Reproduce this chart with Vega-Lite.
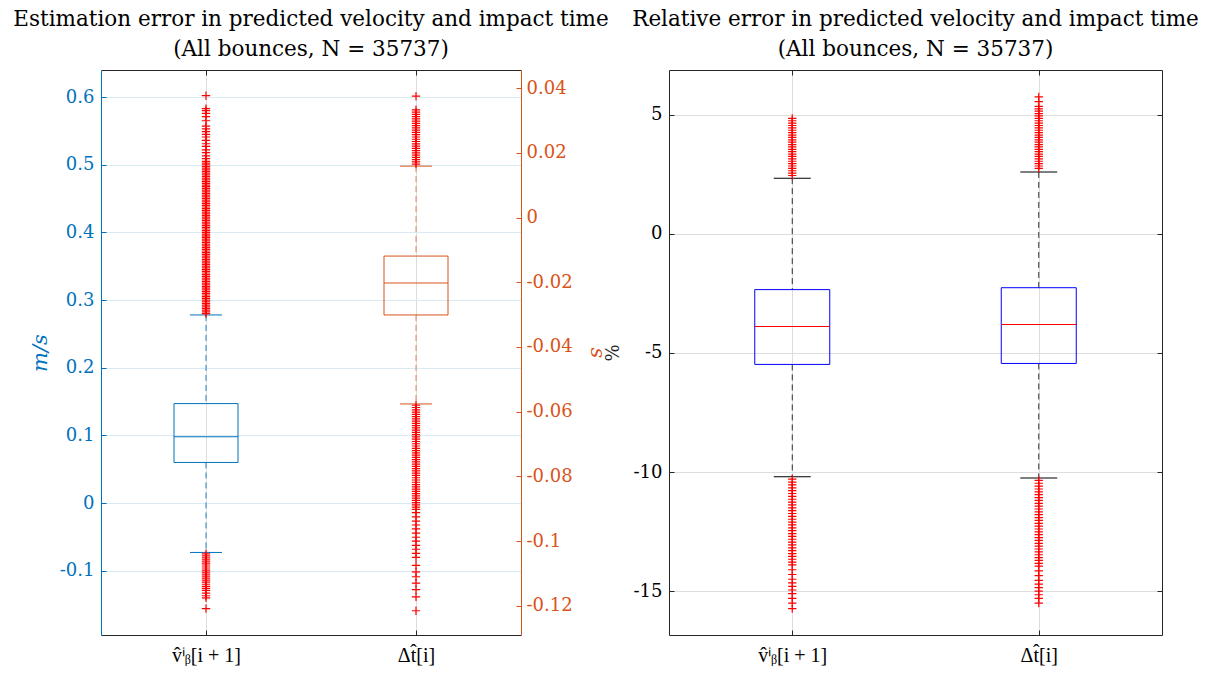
{
  "$schema": "https://vega.github.io/schema/vega-lite/v6.json",
  "padding": {"left": 13, "top": 9, "right": 5, "bottom": 5},
  "background": "white",
  "config": {
    "font": "DejaVu Serif",
    "view": {"stroke": null},
    "axis": {
      "labelFont": "DejaVu Serif",
      "labelFontSize": 18,
      "titleFont": "DejaVu Serif",
      "titleFontWeight": "normal",
      "tickSize": -5,
      "domainWidth": 1,
      "gridWidth": 1,
      "labelPadding": 12
    },
    "title": {"font": "DejaVu Serif", "fontSize": 21.5, "fontWeight": "normal", "color": "#000000", "lineHeight": 30, "offset": 9, "anchor": "middle"}
  },
  "datasets": {
    "vbox": [{"cat": "v", "q1": 0.06, "q3": 0.147, "med": 0.098, "lo": -0.073, "hi": 0.278}],
    "tbox": [{"cat": "t", "q1": -0.0301, "q3": -0.0119, "med": -0.0202, "lo": -0.0576, "hi": 0.0159}],
    "vout": [
      {"cat":"v","val":0.28},{"cat":"v","val":0.2825},{"cat":"v","val":0.285},{"cat":"v","val":0.2875},{"cat":"v","val":0.29},{"cat":"v","val":0.2925},{"cat":"v","val":0.295},{"cat":"v","val":0.2975},
      {"cat":"v","val":0.3},{"cat":"v","val":0.3025},{"cat":"v","val":0.305},{"cat":"v","val":0.3075},{"cat":"v","val":0.31},{"cat":"v","val":0.3125},{"cat":"v","val":0.315},{"cat":"v","val":0.3175},
      {"cat":"v","val":0.32},{"cat":"v","val":0.3225},{"cat":"v","val":0.325},{"cat":"v","val":0.3275},{"cat":"v","val":0.33},{"cat":"v","val":0.3325},{"cat":"v","val":0.335},{"cat":"v","val":0.3375},
      {"cat":"v","val":0.34},{"cat":"v","val":0.3425},{"cat":"v","val":0.345},{"cat":"v","val":0.3475},{"cat":"v","val":0.35},{"cat":"v","val":0.3525},{"cat":"v","val":0.355},{"cat":"v","val":0.3575},
      {"cat":"v","val":0.36},{"cat":"v","val":0.3625},{"cat":"v","val":0.365},{"cat":"v","val":0.3675},{"cat":"v","val":0.37},{"cat":"v","val":0.3725},{"cat":"v","val":0.375},{"cat":"v","val":0.3775},
      {"cat":"v","val":0.38},{"cat":"v","val":0.3825},{"cat":"v","val":0.385},{"cat":"v","val":0.3875},{"cat":"v","val":0.39},{"cat":"v","val":0.3925},{"cat":"v","val":0.395},{"cat":"v","val":0.3975},
      {"cat":"v","val":0.4},{"cat":"v","val":0.4025},{"cat":"v","val":0.405},{"cat":"v","val":0.4075},{"cat":"v","val":0.41},{"cat":"v","val":0.4125},{"cat":"v","val":0.415},{"cat":"v","val":0.4175},
      {"cat":"v","val":0.42},{"cat":"v","val":0.4225},{"cat":"v","val":0.425},{"cat":"v","val":0.4275},{"cat":"v","val":0.43},{"cat":"v","val":0.4325},{"cat":"v","val":0.435},{"cat":"v","val":0.4375},
      {"cat":"v","val":0.44},{"cat":"v","val":0.4425},{"cat":"v","val":0.445},{"cat":"v","val":0.4475},{"cat":"v","val":0.45},{"cat":"v","val":0.4525},{"cat":"v","val":0.455},{"cat":"v","val":0.4575},
      {"cat":"v","val":0.46},{"cat":"v","val":0.4625},{"cat":"v","val":0.465},{"cat":"v","val":0.4675},{"cat":"v","val":0.47},{"cat":"v","val":0.4725},{"cat":"v","val":0.475},{"cat":"v","val":0.4775},
      {"cat":"v","val":0.48},{"cat":"v","val":0.4825},{"cat":"v","val":0.485},{"cat":"v","val":0.4875},{"cat":"v","val":0.49},{"cat":"v","val":0.4925},{"cat":"v","val":0.495},{"cat":"v","val":0.4975},
      {"cat":"v","val":0.5},{"cat":"v","val":0.5025},{"cat":"v","val":0.505},
      {"cat":"v","val":0.509},{"cat":"v","val":0.513},{"cat":"v","val":0.518},{"cat":"v","val":0.522},{"cat":"v","val":0.527},{"cat":"v","val":0.531},{"cat":"v","val":0.536},{"cat":"v","val":0.541},
      {"cat":"v","val":0.545},{"cat":"v","val":0.549},{"cat":"v","val":0.553},{"cat":"v","val":0.557},{"cat":"v","val":0.565},{"cat":"v","val":0.571},{"cat":"v","val":0.576},{"cat":"v","val":0.58},
      {"cat":"v","val":0.583},{"cat":"v","val":0.602},
      {"cat":"v","val":-0.075},{"cat":"v","val":-0.078},{"cat":"v","val":-0.081},{"cat":"v","val":-0.084},{"cat":"v","val":-0.087},{"cat":"v","val":-0.09},{"cat":"v","val":-0.093},{"cat":"v","val":-0.096},
      {"cat":"v","val":-0.099},{"cat":"v","val":-0.102},{"cat":"v","val":-0.105},{"cat":"v","val":-0.108},{"cat":"v","val":-0.111},{"cat":"v","val":-0.114},{"cat":"v","val":-0.117},{"cat":"v","val":-0.12},
      {"cat":"v","val":-0.123},{"cat":"v","val":-0.126},{"cat":"v","val":-0.129},{"cat":"v","val":-0.133},{"cat":"v","val":-0.137},{"cat":"v","val":-0.14},{"cat":"v","val":-0.156}
    ],
    "tout": [
      {"cat":"t","val":0.0165},{"cat":"t","val":0.0172},{"cat":"t","val":0.0179},{"cat":"t","val":0.0186},{"cat":"t","val":0.0193},{"cat":"t","val":0.02},{"cat":"t","val":0.0207},{"cat":"t","val":0.0214},
      {"cat":"t","val":0.0221},{"cat":"t","val":0.0228},{"cat":"t","val":0.0235},{"cat":"t","val":0.0242},{"cat":"t","val":0.0249},{"cat":"t","val":0.0256},{"cat":"t","val":0.0263},{"cat":"t","val":0.027},
      {"cat":"t","val":0.0277},{"cat":"t","val":0.0284},{"cat":"t","val":0.0291},{"cat":"t","val":0.0298},{"cat":"t","val":0.0305},{"cat":"t","val":0.0312},{"cat":"t","val":0.0319},{"cat":"t","val":0.0326},
      {"cat":"t","val":0.0333},{"cat":"t","val":0.0375},
      {"cat":"t","val":-0.058},{"cat":"t","val":-0.0587},{"cat":"t","val":-0.0594},{"cat":"t","val":-0.0601},{"cat":"t","val":-0.0608},{"cat":"t","val":-0.0615},{"cat":"t","val":-0.0622},{"cat":"t","val":-0.0629},
      {"cat":"t","val":-0.0636},{"cat":"t","val":-0.0643},{"cat":"t","val":-0.065},{"cat":"t","val":-0.0657},{"cat":"t","val":-0.0664},{"cat":"t","val":-0.0671},{"cat":"t","val":-0.0678},{"cat":"t","val":-0.0685},
      {"cat":"t","val":-0.0692},{"cat":"t","val":-0.0699},{"cat":"t","val":-0.0706},{"cat":"t","val":-0.0713},{"cat":"t","val":-0.072},{"cat":"t","val":-0.0727},{"cat":"t","val":-0.0734},{"cat":"t","val":-0.0741},
      {"cat":"t","val":-0.0748},{"cat":"t","val":-0.0755},{"cat":"t","val":-0.0762},{"cat":"t","val":-0.0769},{"cat":"t","val":-0.0776},{"cat":"t","val":-0.0783},{"cat":"t","val":-0.079},{"cat":"t","val":-0.0797},
      {"cat":"t","val":-0.0804},{"cat":"t","val":-0.0811},{"cat":"t","val":-0.0818},{"cat":"t","val":-0.0825},{"cat":"t","val":-0.0832},{"cat":"t","val":-0.0839},{"cat":"t","val":-0.0846},{"cat":"t","val":-0.0853},
      {"cat":"t","val":-0.086},{"cat":"t","val":-0.0867},{"cat":"t","val":-0.0874},{"cat":"t","val":-0.0881},{"cat":"t","val":-0.0888},{"cat":"t","val":-0.0895},{"cat":"t","val":-0.0902},
      {"cat":"t","val":-0.0912},{"cat":"t","val":-0.0925},{"cat":"t","val":-0.0938},{"cat":"t","val":-0.095},{"cat":"t","val":-0.0962},{"cat":"t","val":-0.0975},{"cat":"t","val":-0.0988},{"cat":"t","val":-0.1},
      {"cat":"t","val":-0.1013},{"cat":"t","val":-0.1025},{"cat":"t","val":-0.1038},{"cat":"t","val":-0.105},
      {"cat":"t","val":-0.1075},{"cat":"t","val":-0.1095},{"cat":"t","val":-0.111},{"cat":"t","val":-0.113},{"cat":"t","val":-0.115},{"cat":"t","val":-0.1172},{"cat":"t","val":-0.1215}
    ],
    "pbox": [
      {"cat": "v", "q1": -5.48, "q3": -2.34, "med": -3.89, "lo": -10.2, "hi": 2.34},
      {"cat": "t", "q1": -5.44, "q3": -2.26, "med": -3.8, "lo": -10.25, "hi": 2.6}
    ],
    "pout": [
      {"cat":"v","val":2.45},{"cat":"v","val":2.55},{"cat":"v","val":2.65},{"cat":"v","val":2.75},{"cat":"v","val":2.85},{"cat":"v","val":2.95},{"cat":"v","val":3.05},{"cat":"v","val":3.15},
      {"cat":"v","val":3.25},{"cat":"v","val":3.35},{"cat":"v","val":3.45},{"cat":"v","val":3.55},{"cat":"v","val":3.65},{"cat":"v","val":3.75},{"cat":"v","val":3.85},{"cat":"v","val":3.95},
      {"cat":"v","val":4.05},{"cat":"v","val":4.15},{"cat":"v","val":4.25},{"cat":"v","val":4.35},{"cat":"v","val":4.45},{"cat":"v","val":4.55},{"cat":"v","val":4.65},{"cat":"v","val":4.75},
      {"cat":"v","val":4.85},
      {"cat":"v","val":-10.3},{"cat":"v","val":-10.42},{"cat":"v","val":-10.54},{"cat":"v","val":-10.66},{"cat":"v","val":-10.78},{"cat":"v","val":-10.9},{"cat":"v","val":-11.02},{"cat":"v","val":-11.14},
      {"cat":"v","val":-11.26},{"cat":"v","val":-11.38},{"cat":"v","val":-11.5},{"cat":"v","val":-11.62},{"cat":"v","val":-11.74},{"cat":"v","val":-11.86},{"cat":"v","val":-11.98},{"cat":"v","val":-12.1},
      {"cat":"v","val":-12.22},{"cat":"v","val":-12.34},{"cat":"v","val":-12.46},{"cat":"v","val":-12.58},{"cat":"v","val":-12.7},{"cat":"v","val":-12.82},{"cat":"v","val":-12.94},{"cat":"v","val":-13.06},
      {"cat":"v","val":-13.18},{"cat":"v","val":-13.3},{"cat":"v","val":-13.42},{"cat":"v","val":-13.54},{"cat":"v","val":-13.66},{"cat":"v","val":-13.78},{"cat":"v","val":-13.9},
      {"cat":"v","val":-14.1},{"cat":"v","val":-14.3},{"cat":"v","val":-14.5},{"cat":"v","val":-14.65},{"cat":"v","val":-14.8},{"cat":"v","val":-14.95},{"cat":"v","val":-15.1},{"cat":"v","val":-15.3},
      {"cat":"v","val":-15.5},{"cat":"v","val":-15.73},
      {"cat":"t","val":2.75},{"cat":"t","val":2.85},{"cat":"t","val":2.95},{"cat":"t","val":3.05},{"cat":"t","val":3.15},{"cat":"t","val":3.25},{"cat":"t","val":3.35},{"cat":"t","val":3.45},
      {"cat":"t","val":3.55},{"cat":"t","val":3.65},{"cat":"t","val":3.75},{"cat":"t","val":3.85},{"cat":"t","val":3.95},{"cat":"t","val":4.05},{"cat":"t","val":4.15},{"cat":"t","val":4.25},
      {"cat":"t","val":4.35},{"cat":"t","val":4.45},{"cat":"t","val":4.55},{"cat":"t","val":4.65},{"cat":"t","val":4.75},{"cat":"t","val":4.85},{"cat":"t","val":4.95},{"cat":"t","val":5.05},
      {"cat":"t","val":5.15},{"cat":"t","val":5.25},{"cat":"t","val":5.35},{"cat":"t","val":5.55},{"cat":"t","val":5.75},
      {"cat":"t","val":-10.35},{"cat":"t","val":-10.47},{"cat":"t","val":-10.59},{"cat":"t","val":-10.71},{"cat":"t","val":-10.83},{"cat":"t","val":-10.95},{"cat":"t","val":-11.07},{"cat":"t","val":-11.19},
      {"cat":"t","val":-11.31},{"cat":"t","val":-11.43},{"cat":"t","val":-11.55},{"cat":"t","val":-11.67},{"cat":"t","val":-11.79},{"cat":"t","val":-11.91},{"cat":"t","val":-12.03},{"cat":"t","val":-12.15},
      {"cat":"t","val":-12.27},{"cat":"t","val":-12.39},{"cat":"t","val":-12.51},{"cat":"t","val":-12.63},{"cat":"t","val":-12.75},{"cat":"t","val":-12.87},{"cat":"t","val":-12.99},{"cat":"t","val":-13.11},
      {"cat":"t","val":-13.23},{"cat":"t","val":-13.35},{"cat":"t","val":-13.47},{"cat":"t","val":-13.59},{"cat":"t","val":-13.71},{"cat":"t","val":-13.83},{"cat":"t","val":-13.95},
      {"cat":"t","val":-14.15},{"cat":"t","val":-14.35},{"cat":"t","val":-14.55},{"cat":"t","val":-14.7},{"cat":"t","val":-14.85},{"cat":"t","val":-15.0},{"cat":"t","val":-15.15},{"cat":"t","val":-15.3},
      {"cat":"t","val":-15.5}
    ]
  },
  "bounds": "flush",
  "spacing": 148,
  "hconcat": [
    {
      "width": 420,
      "height": 565,
      "title": {"text": ["Estimation error in predicted velocity and impact time", "(All bounces, N = 35737)"]},
      "layer": [
        {
          "encoding": {
            "x": {"field": "cat", "type": "nominal", "title": null,
              "scale": {"type": "point", "domain": ["v", "t"], "padding": 0.5},
              "axis": {"orient": "bottom", "labelAngle": 0, "labelExpr": "datum.value == 'v' ? 'v̂ⁱᵦ[i + 1]' : 'Δt̂[i]'", "labelFont": "Liberation Serif", "labelFontSize": 20, "labelPadding": 15, "labelColor": "#000000", "domainColor": "#262626", "tickColor": "#262626", "grid": true, "gridColor": "#DEDEDE"}},
            "y": {"type": "quantitative", "title": "m/s",
              "scale": {"domain": [-0.195, 0.64], "nice": false, "zero": false},
              "axis": {"orient": "left", "values": [-0.1, 0, 0.1, 0.2, 0.3, 0.4, 0.5, 0.6], "labelExpr": "replace(format(datum.value, '~g'), '−', '-')",
                "labelColor": "#0072BD", "domainColor": "#0072BD", "tickColor": "#0072BD", "grid": true, "gridColor": "#D9EAF5",
                "titleColor": "#0072BD", "titleFontStyle": "italic", "titleFontSize": 21, "titlePadding": 9}}
          },
          "layer": [
            {
              "data": {"name": "vbox"},
              "mark": {"type": "rule", "color": "#0072BD", "strokeDash": [6, 4], "opacity": 0.85},
              "encoding": {"y": {"field": "hi"}, "y2": {"field": "q3"}}
            },
            {
              "data": {"name": "vbox"},
              "mark": {"type": "rule", "color": "#0072BD", "strokeDash": [6, 4], "opacity": 0.85},
              "encoding": {"y": {"field": "q1"}, "y2": {"field": "lo"}}
            },
            {
              "data": {"name": "vbox"},
              "mark": {"type": "bar", "width": 64, "fill": "transparent", "stroke": "#0072BD", "strokeWidth": 1},
              "encoding": {"y": {"field": "q1"}, "y2": {"field": "q3"}}
            },
            {
              "data": {"name": "vbox"},
              "mark": {"type": "tick", "orient": "horizontal", "size": 64, "thickness": 1, "color": "#0072BD", "opacity": 1},
              "encoding": {"y": {"field": "med"}}
            },
            {
              "data": {"name": "vbox"},
              "mark": {"type": "tick", "orient": "horizontal", "size": 32, "thickness": 1, "color": "#0072BD", "opacity": 1},
              "encoding": {"y": {"field": "hi"}}
            },
            {
              "data": {"name": "vbox"},
              "mark": {"type": "tick", "orient": "horizontal", "size": 32, "thickness": 1, "color": "#0072BD", "opacity": 1},
              "encoding": {"y": {"field": "lo"}}
            },
            {
              "data": {"name": "vout"},
              "mark": {"type": "point", "shape": "M-1,0H1M0,-1V1", "size": 70, "filled": false, "stroke": "#FF0000", "strokeWidth": 1.2, "opacity": 1},
              "encoding": {"y": {"field": "val"}}
            }
          ]
        },
        {
          "encoding": {
            "x": {"field": "cat", "type": "nominal", "title": null,
              "scale": {"type": "point", "domain": ["v", "t"], "padding": 0.5},
              "axis": {"orient": "top", "labels": false, "domainColor": "#262626", "tickColor": "#262626", "grid": false}},
            "y": {"type": "quantitative", "title": "s",
              "scale": {"domain": [-0.129, 0.0456], "nice": false, "zero": false},
              "axis": {"orient": "right", "values": [-0.12, -0.1, -0.08, -0.06, -0.04, -0.02, 0, 0.02, 0.04], "labelExpr": "replace(format(datum.value, '~g'), '−', '-')",
                "labelColor": "#D95319", "domainColor": "#D95319", "tickColor": "#D95319", "grid": false, "labelPadding": 10,
                "titleColor": "#D95319", "titleFontStyle": "italic", "titleFontSize": 21, "titlePadding": 14}}
          },
          "layer": [
            {
              "data": {"name": "tbox"},
              "mark": {"type": "rule", "color": "#D95319", "strokeDash": [6, 4], "opacity": 0.7},
              "encoding": {"y": {"field": "hi"}, "y2": {"field": "q3"}}
            },
            {
              "data": {"name": "tbox"},
              "mark": {"type": "rule", "color": "#D95319", "strokeDash": [6, 4], "opacity": 0.7},
              "encoding": {"y": {"field": "q1"}, "y2": {"field": "lo"}}
            },
            {
              "data": {"name": "tbox"},
              "mark": {"type": "bar", "width": 64, "fill": "transparent", "stroke": "#D95319", "strokeWidth": 1},
              "encoding": {"y": {"field": "q1"}, "y2": {"field": "q3"}}
            },
            {
              "data": {"name": "tbox"},
              "mark": {"type": "tick", "orient": "horizontal", "size": 64, "thickness": 1, "color": "#D95319", "opacity": 1},
              "encoding": {"y": {"field": "med"}}
            },
            {
              "data": {"name": "tbox"},
              "mark": {"type": "tick", "orient": "horizontal", "size": 32, "thickness": 1, "color": "#D95319", "opacity": 1},
              "encoding": {"y": {"field": "hi"}}
            },
            {
              "data": {"name": "tbox"},
              "mark": {"type": "tick", "orient": "horizontal", "size": 32, "thickness": 1, "color": "#D95319", "opacity": 1},
              "encoding": {"y": {"field": "lo"}}
            },
            {
              "data": {"name": "tout"},
              "mark": {"type": "point", "shape": "M-1,0H1M0,-1V1", "size": 70, "filled": false, "stroke": "#FF0000", "strokeWidth": 1.2, "opacity": 1},
              "encoding": {"y": {"field": "val"}}
            }
          ]
        }
      ],
      "resolve": {"scale": {"y": "independent"}, "axis": {"y": "independent", "x": "independent"}}
    },
    {
      "width": 493,
      "height": 565,
      "title": {"text": ["Relative error in predicted velocity and impact time", "(All bounces, N = 35737)"]},
      "layer": [
        {
          "encoding": {
            "x": {"field": "cat", "type": "nominal", "title": null,
              "scale": {"type": "point", "domain": ["v", "t"], "padding": 0.5},
              "axis": {"orient": "bottom", "labelAngle": 0, "labelExpr": "datum.value == 'v' ? 'v̂ⁱᵦ[i + 1]' : 'Δt̂[i]'", "labelFont": "Liberation Serif", "labelFontSize": 20, "labelPadding": 15, "labelColor": "#000000", "domainColor": "#262626", "tickColor": "#262626", "grid": true, "gridColor": "#DEDEDE"}},
            "y": {"type": "quantitative", "title": "%",
              "scale": {"domain": [-16.84, 6.88], "nice": false, "zero": false},
              "axis": {"orient": "left", "values": [-15, -10, -5, 0, 5], "labelExpr": "replace(format(datum.value, '~g'), '−', '-')",
                "labelColor": "#000000", "domainColor": "#262626", "tickColor": "#262626", "grid": true, "gridColor": "#DEDEDE",
                "titleColor": "#262626", "titleFontSize": 18, "titlePadding": 11}}
          },
          "layer": [
            {
              "data": {"name": "pbox"},
              "mark": {"type": "rule", "color": "#000000", "strokeDash": [6, 4], "opacity": 0.8},
              "encoding": {"y": {"field": "hi"}, "y2": {"field": "q3"}}
            },
            {
              "data": {"name": "pbox"},
              "mark": {"type": "rule", "color": "#000000", "strokeDash": [6, 4], "opacity": 0.8},
              "encoding": {"y": {"field": "q1"}, "y2": {"field": "lo"}}
            },
            {
              "data": {"name": "pbox"},
              "mark": {"type": "bar", "width": 75, "fill": "transparent", "stroke": "#0000FF", "strokeWidth": 1},
              "encoding": {"y": {"field": "q1"}, "y2": {"field": "q3"}}
            },
            {
              "data": {"name": "pbox"},
              "mark": {"type": "tick", "orient": "horizontal", "size": 75, "thickness": 1, "color": "#FF0000", "opacity": 1},
              "encoding": {"y": {"field": "med"}}
            },
            {
              "data": {"name": "pbox"},
              "mark": {"type": "tick", "orient": "horizontal", "size": 37, "thickness": 1, "color": "#000000", "opacity": 1},
              "encoding": {"y": {"field": "hi"}}
            },
            {
              "data": {"name": "pbox"},
              "mark": {"type": "tick", "orient": "horizontal", "size": 37, "thickness": 1, "color": "#000000", "opacity": 1},
              "encoding": {"y": {"field": "lo"}}
            }
          ]
        },
        {
          "data": {"name": "pout"},
          "mark": {"type": "point", "shape": "M-1,0H1M0,-1V1", "size": 70, "filled": false, "stroke": "#FF0000", "strokeWidth": 1.2, "opacity": 1},
          "encoding": {
            "x": {"field": "cat", "type": "nominal", "title": null,
              "scale": {"type": "point", "domain": ["v", "t"], "padding": 0.5},
              "axis": {"orient": "top", "labels": false, "domainColor": "#262626", "tickColor": "#262626", "grid": false}},
            "y": {"field": "val", "type": "quantitative", "title": null,
              "scale": {"domain": [-16.84, 6.88], "nice": false, "zero": false},
              "axis": {"orient": "right", "values": [-15, -10, -5, 0, 5], "labels": false, "domainColor": "#262626", "tickColor": "#262626", "grid": false}}
          }
        }
      ],
      "resolve": {"axis": {"y": "independent", "x": "independent"}}
    }
  ]
}
